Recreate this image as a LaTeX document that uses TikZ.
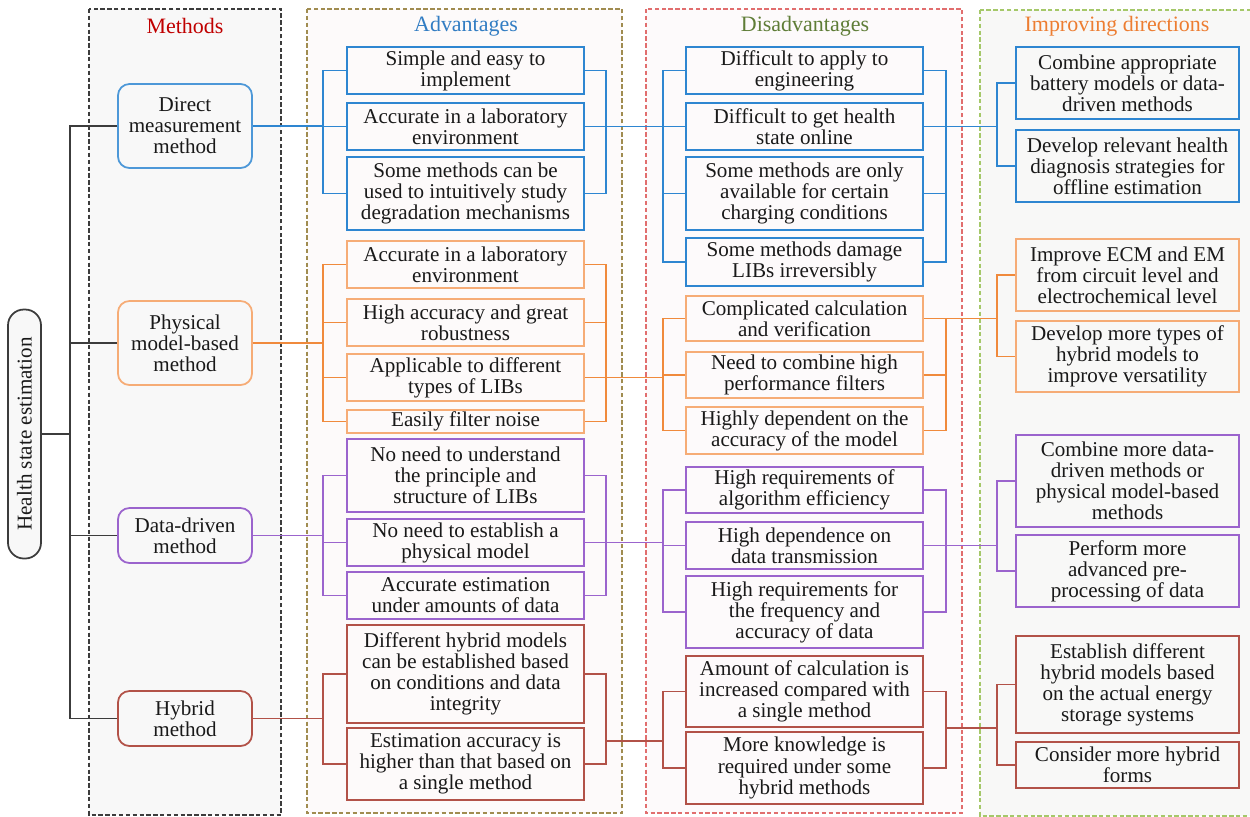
\documentclass[tikz,border=0pt]{standalone}
\usepackage{fontspec}
\setmainfont{Liberation Serif}
\begin{document}
\definecolor{blueL}{RGB}{46,134,209}
\definecolor{orangeL}{RGB}{240,138,60}
\definecolor{orangeB}{RGB}{246,172,118}
\definecolor{purpleL}{RGB}{155,100,205}
\definecolor{redL}{RGB}{178,82,72}
\definecolor{txt}{RGB}{25,25,25}
\definecolor{panM}{RGB}{248,248,248}
\definecolor{panA}{RGB}{253,250,250}
\definecolor{panD}{RGB}{253,250,251}
\definecolor{panI}{RGB}{248,248,247}
\definecolor{edgeM}{RGB}{60,60,60}
\definecolor{edgeA}{RGB}{160,140,80}
\definecolor{edgeD}{RGB}{225,110,110}
\definecolor{edgeI}{RGB}{165,200,105}
\definecolor{titM}{RGB}{192,0,0}
\definecolor{titA}{RGB}{50,125,195}
\definecolor{titD}{RGB}{95,125,55}
\definecolor{titI}{RGB}{237,125,49}
% box with corners (x1,y1)-(x2,y2) in pixel units
\newcommand\bx[7]{%
  \node[box,draw=#6,minimum width={(#4-#2)*0.02cm},minimum height={(#5-#3)*0.02cm}]
    (#1) at ({(#2+#4)/2},{(#3+#5)/2}) {#7};}
\newcommand\mth[6]{%
  \node[mbox,draw=#5,minimum width={(252-118)*0.02cm},minimum height={(#3-#2)*0.02cm}]
    (#1) at ({(118+252)/2},{(#2+#3)/2}) {#6};}
\begin{tikzpicture}[x=0.02cm,y=-0.02cm,
  every node/.style={font=\fontsize{12}{12}\selectfont,text=txt},
  box/.style={rectangle,inner sep=0pt,align=center,line width=1pt},
  mbox/.style={rectangle,rounded corners=6.5pt,inner sep=0pt,align=center,line width=1pt,fill=panM},
  panel/.style={dash pattern=on 2.5pt off 1.4pt,line width=0.8pt},
  conn/.style={line width=0.9pt},
  title/.style={font=\fontsize{12.5}{12.5}\selectfont}]
\useasboundingbox (0,0) rectangle (1250,816);

% column panels
\draw[panel,draw=edgeM,fill=panM] (89,9) rectangle (281,815);
\draw[panel,draw=edgeA,fill=panA] (307,9) rectangle (622,813);
\draw[panel,draw=edgeD,fill=panD] (646,9) rectangle (962,813);
\draw[panel,draw=edgeI,fill=panI] (980,10) rectangle (1262,816);

\node[title,text=titM] (tM) at (185,26) {Methods};
\node[title,text=titA] (tA) at (466,26) {Advantages};
\node[title,text=titD] (tD) at (805,26) {Disadvantages};
\node[title,text=titI] (tI) at (1117,26) {Improving directions};

% root
\node[rectangle,rounded corners=9pt,draw=edgeM,fill=panM,line width=1pt,inner sep=0pt,
      minimum width={33*0.02cm},minimum height={249*0.02cm}] (root) at (24.5,434)
      {\rotatebox{90}{Health state estimation}};

% methods
\mth{dm}{84}{168}{}{blueL!85}{Direct\\measurement\\method}
\mth{pm}{301}{385}{}{orangeB}{Physical\\model-based\\method}
\mth{ddm}{508}{563}{}{purpleL}{Data-driven\\method}
\mth{hm}{691}{746}{}{redL}{Hybrid\\method}

% advantages
\bx{ab1}{347}{47}{584}{94}{blueL}{Simple and easy to\\implement}
\bx{ab2}{347}{103}{584}{150}{blueL}{Accurate in a laboratory\\environment}
\bx{ab3}{347}{157}{584}{230}{blueL}{Some methods can be\\used to intuitively study\\degradation mechanisms}
\bx{ao1}{347}{241}{584}{288}{orangeB}{Accurate in a laboratory\\environment}
\bx{ao2}{347}{299}{584}{346}{orangeB}{High accuracy and great\\robustness}
\bx{ao3}{347}{354}{584}{401}{orangeB}{Applicable to different\\types of LIBs}
\bx{ao4}{347}{410}{584}{433}{orangeB}{Easily filter noise}
\bx{ap1}{347}{439}{584}{512}{purpleL}{No need to understand\\the principle and\\structure of LIBs}
\bx{ap2}{347}{519}{584}{566}{purpleL}{No need to establish a\\physical model}
\bx{ap3}{347}{572}{584}{619}{purpleL}{Accurate estimation\\under amounts of data}
\bx{ar1}{347}{625}{584}{723}{redL}{Different hybrid models\\can be established based\\on conditions and data\\integrity}
\bx{ar2}{347}{728}{584}{800}{redL}{Estimation accuracy is\\higher than that based on\\a single method}

% disadvantages
\bx{db1}{686}{47}{923}{94}{blueL}{Difficult to apply to\\engineering}
\bx{db2}{686}{103}{923}{150}{blueL}{Difficult to get health\\state online}
\bx{db3}{686}{157}{923}{230}{blueL}{Some methods are only\\available for certain\\charging conditions}
\bx{db4}{686}{238}{923}{286}{blueL}{Some methods damage\\LIBs irreversibly}
\bx{do1}{686}{296}{923}{341}{orangeB}{Complicated calculation\\and verification}
\bx{do2}{686}{352}{923}{398}{orangeB}{Need to combine high\\performance filters}
\bx{do3}{686}{407}{923}{454}{orangeB}{Highly dependent on the\\accuracy of the model}
\bx{dp1}{686}{467}{923}{513}{purpleL}{High requirements of\\algorithm efficiency}
\bx{dp2}{686}{522}{923}{569}{purpleL}{High dependence on\\data transmission}
\bx{dp3}{686}{576}{923}{648}{purpleL}{High requirements for\\the frequency and\\accuracy of data}
\bx{dr1}{686}{656}{923}{727}{redL}{Amount of calculation is\\increased compared with\\a single method}
\bx{dr2}{686}{732}{923}{804}{redL}{More knowledge is\\required under some\\hybrid methods}

% improving directions
\bx{ib1}{1016}{47}{1239}{119}{blueL}{Combine appropriate\\battery models or data-\\driven methods}
\bx{ib2}{1016}{130}{1239}{202}{blueL}{Develop relevant health\\diagnosis strategies for\\offline estimation}
\bx{io1}{1016}{239}{1239}{311}{orangeB}{Improve ECM and EM\\from circuit level and\\electrochemical level}
\bx{io2}{1016}{321}{1239}{392}{orangeB}{Develop more types of\\hybrid models to\\improve versatility}
\bx{ip1}{1016}{435}{1239}{527}{purpleL}{Combine more data-\\driven methods or\\physical model-based\\methods}
\bx{ip2}{1016}{535}{1239}{607}{purpleL}{Perform more\\advanced pre-\\processing of data}
\bx{ir1}{1016}{636}{1239}{733}{redL}{Establish different\\hybrid models based\\on the actual energy\\storage systems}
\bx{ir2}{1016}{742}{1239}{788}{redL}{Consider more hybrid\\forms}

% bracket columns
\coordinate (T0) at (70,0);
\coordinate (L1) at (323,0);
\coordinate (R1) at (606,0);
\coordinate (L2) at (663,0);
\coordinate (R2) at (946,0);
\coordinate (L3) at (997,0);
\coordinate (arOut) at (606,741);
\coordinate (drOut) at (946,728);

% trunk from the root to the four methods
\draw[conn,draw=edgeM] (root.east) -- (root.east -| T0);
\draw[conn,draw=edgeM] (dm.west) -- (dm.west -| T0) -- (hm.west -| T0) -- (hm.west);
\draw[conn,draw=edgeM] (pm.west) -- (pm.west -| T0);
\draw[conn,draw=edgeM] (ddm.west) -- (ddm.west -| T0);

% blue branch
\begin{scope}[conn,draw=blueL]
\draw (dm.east) -- (dm.east -| L1);
\draw (ab1.west) -- (ab1.west -| L1) -- (ab3.west -| L1) -- (ab3.west);
\draw (ab2.west) -- (ab2.west -| L1);
\draw (ab1.east) -- (ab1.east -| R1) -- (ab3.east -| R1) -- (ab3.east);
\draw (ab2.east) -- (ab2.east -| R1);
\draw (ab2.east -| R1) -- (ab2.east -| L2);
\draw (db1.west) -- (db1.west -| L2) -- (db4.west -| L2) -- (db4.west);
\draw (db2.west) -- (db2.west -| L2);
\draw (db3.west) -- (db3.west -| L2);
\draw (db1.east) -- (db1.east -| R2) -- (db4.east -| R2) -- (db4.east);
\draw (db2.east) -- (db2.east -| R2);
\draw (db3.east) -- (db3.east -| R2);
\draw (db2.east -| R2) -- (db2.east -| L3);
\draw (ib1.west) -- (ib1.west -| L3) -- (ib2.west -| L3) -- (ib2.west);
\end{scope}

% orange branch
\begin{scope}[conn,draw=orangeL]
\draw (pm.east) -- (pm.east -| L1);
\draw (ao1.west) -- (ao1.west -| L1) -- (ao4.west -| L1) -- (ao4.west);
\draw (ao2.west) -- (ao2.west -| L1);
\draw (ao3.west) -- (ao3.west -| L1);
\draw (ao1.east) -- (ao1.east -| R1) -- (ao4.east -| R1) -- (ao4.east);
\draw (ao2.east) -- (ao2.east -| R1);
\draw (ao3.east) -- (ao3.east -| R1);
\draw (ao3.east -| R1) -- (ao3.east -| L2);
\draw (do1.west) -- (do1.west -| L2) -- (do3.west -| L2) -- (do3.west);
\draw (do2.west) -- (do2.west -| L2);
\draw (do1.east) -- (do1.east -| R2) -- (do3.east -| R2) -- (do3.east);
\draw (do2.east) -- (do2.east -| R2);
\draw (do1.east -| R2) -- (do1.east -| L3);
\draw (io1.west) -- (io1.west -| L3) -- (io2.west -| L3) -- (io2.west);
\end{scope}

% purple branch
\begin{scope}[conn,draw=purpleL]
\draw (ddm.east) -- (ddm.east -| L1);
\draw (ap1.west) -- (ap1.west -| L1) -- (ap3.west -| L1) -- (ap3.west);
\draw (ap2.west) -- (ap2.west -| L1);
\draw (ap1.east) -- (ap1.east -| R1) -- (ap3.east -| R1) -- (ap3.east);
\draw (ap2.east) -- (ap2.east -| R1);
\draw (ap2.east -| R1) -- (ap2.east -| L2);
\draw (dp1.west) -- (dp1.west -| L2) -- (dp3.west -| L2) -- (dp3.west);
\draw (dp2.west) -- (dp2.west -| L2);
\draw (dp1.east) -- (dp1.east -| R2) -- (dp3.east -| R2) -- (dp3.east);
\draw (dp2.east) -- (dp2.east -| R2);
\draw (dp2.east -| R2) -- (dp2.east -| L3);
\draw (ip1.west) -- (ip1.west -| L3) -- (ip2.west -| L3) -- (ip2.west);
\end{scope}

% red branch
\begin{scope}[conn,draw=redL]
\draw (hm.east) -- (hm.east -| L1);
\draw (ar1.west) -- (ar1.west -| L1) -- (ar2.west -| L1) -- (ar2.west);
\draw (ar1.east) -- (ar1.east -| R1) -- (ar2.east -| R1) -- (ar2.east);
\draw (arOut) -- (arOut -| L2);
\draw (dr1.west) -- (dr1.west -| L2) -- (dr2.west -| L2) -- (dr2.west);
\draw (dr1.east) -- (dr1.east -| R2) -- (dr2.east -| R2) -- (dr2.east);
\draw (drOut) -- (drOut -| L3);
\draw (ir1.west) -- (ir1.west -| L3) -- (ir2.west -| L3) -- (ir2.west);
\end{scope}
\end{tikzpicture}
\end{document}
